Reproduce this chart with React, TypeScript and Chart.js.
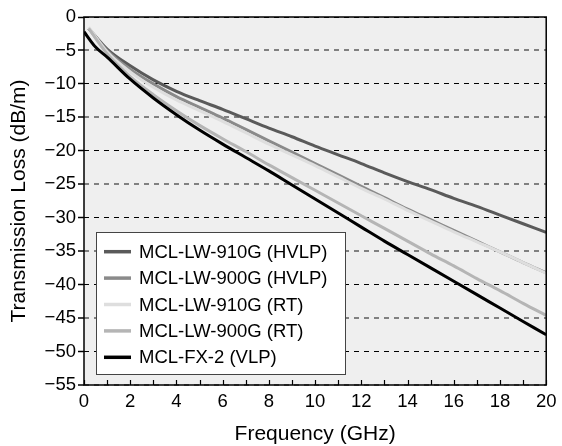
import React, { useEffect, useRef } from 'react';
import { Chart, registerables } from 'chart.js';

Chart.register(...registerables);

// ---- data ----
const freqGHz = [0.2, 1, 2, 3, 4, 5, 6, 7, 8, 9, 10, 11, 12, 13, 14, 15, 16, 17, 18, 19, 20];
const fx2FreqGHz = [0, 0.5, 1, 2, 3, 4, 5, 6, 7, 8, 9, 10, 11, 12, 13, 14, 15, 16, 17, 18, 19, 20];

const seriesNames = [
  'MCL-LW-910G (HVLP)',
  'MCL-LW-900G (HVLP)',
  'MCL-LW-910G (RT)',
  'MCL-LW-900G (RT)',
  'MCL-FX-2 (VLP)',
];

const lw910HVLP = [-1.7, -4.8, -7.3, -9.4, -11.1, -12.5, -13.8, -15.2, -16.6, -17.9, -19.3, -20.6, -21.9, -23.3, -24.6, -25.8, -27.1, -28.3, -29.6, -30.9, -32.2];
const lw900HVLP = [-1.7, -5.0, -7.8, -10.0, -11.9, -13.5, -15.1, -16.8, -18.5, -20.2, -21.9, -23.6, -25.3, -27.0, -28.7, -30.3, -31.9, -33.5, -35.1, -36.7, -38.2];
const lw910RT = [-1.5, -5.2, -8.2, -10.5, -12.4, -14.0, -15.6, -17.3, -19.0, -20.6, -22.2, -23.9, -25.6, -27.2, -28.9, -30.5, -32.1, -33.6, -35.1, -36.7, -38.3];
const lw900RT = [-1.7, -5.5, -8.9, -11.6, -14.0, -16.2, -18.2, -20.1, -22.1, -24.0, -25.9, -27.8, -29.7, -31.6, -33.5, -35.4, -37.2, -39.1, -40.9, -42.8, -44.6];
const fx2VLP = [-2.2, -4.5, -6.0, -9.3, -12.1, -14.6, -16.9, -19.0, -21.0, -23.0, -25.1, -27.2, -29.3, -31.4, -33.5, -35.5, -37.5, -39.5, -41.5, -43.5, -45.5, -47.5];

const yMin = -55;
const yMax = 0;
const yStep = 5;
const xMin = 0;
const xMax = 20;
const xLabelStep = 2;
const xMinorStep = 1;

const xTitle = 'Frequency (GHz)';
const yTitle = 'Transmission Loss (dB/m)';

// ---- styles ----
const seriesColors = ['#5a5a5a', '#8a8a8a', '#dedede', '#b5b5b5', '#000000'];
const FONT = '"Liberation Sans", Arial, Helvetica, sans-serif';

const toPoints = (xs: number[], ys: number[]) => xs.map((x, i) => ({ x, y: ys[i] }));

const decorPlugin = {
  id: 'decor',
  beforeDraw(chart: any) {
    const { ctx, chartArea: a } = chart;
    ctx.save();
    ctx.fillStyle = '#efefef';
    ctx.fillRect(a.left, a.top, a.right - a.left, a.bottom - a.top);
    ctx.restore();
  },
  afterDraw(chart: any) {
    const { ctx, chartArea: a } = chart;
    const xs = chart.scales.x;
    ctx.save();
    // minor x ticks pointing inward
    ctx.strokeStyle = '#000';
    ctx.lineWidth = 1.2;
    for (let v = xs.min; v <= xs.max + 1e-9; v += xMinorStep) {
      const px = Math.round(xs.getPixelForValue(v)) + 0.5;
      ctx.beginPath();
      ctx.moveTo(px, a.bottom);
      ctx.lineTo(px, a.bottom - 5);
      ctx.stroke();
    }
    // legend box
    const bx = a.left + 12;
    const by = a.bottom - 153;
    const bw = 249;
    const bh = 142;
    ctx.fillStyle = '#ffffff';
    ctx.fillRect(bx, by, bw, bh);
    ctx.strokeStyle = '#444';
    ctx.lineWidth = 1;
    ctx.strokeRect(bx + 0.5, by + 0.5, bw, bh);
    ctx.font = `18.5px ${FONT}`;
    ctx.textBaseline = 'middle';
    ctx.textAlign = 'left';
    chart.data.datasets.forEach((ds: any, i: number) => {
      const cy = by + 19.7 + i * 26.4;
      ctx.strokeStyle = ds.borderColor;
      ctx.lineWidth = 3.5;
      ctx.beginPath();
      ctx.moveTo(bx + 8, cy);
      ctx.lineTo(bx + 35, cy);
      ctx.stroke();
      ctx.fillStyle = '#000';
      ctx.fillText(ds.label, bx + 43, cy + 1);
    });
    // frame
    ctx.strokeStyle = '#000';
    ctx.lineWidth = 1.5;
    ctx.strokeRect(a.left, a.top, a.right - a.left, a.bottom - a.top);
    ctx.restore();
  },
};

export default function App() {
  const ref = useRef<HTMLCanvasElement | null>(null);
  useEffect(() => {
    document.body.style.margin = '0';
    const canvas = ref.current;
    if (!canvas) return;
    const seriesValues = [lw910HVLP, lw900HVLP, lw910RT, lw900RT, fx2VLP];
    const seriesFreqs = [freqGHz, freqGHz, freqGHz, freqGHz, fx2FreqGHz];
    const datasets = seriesNames.map((name, i) => ({
      label: name,
      data: toPoints(seriesFreqs[i], seriesValues[i]),
      borderColor: seriesColors[i],
      backgroundColor: seriesColors[i],
      borderWidth: 3,
      pointRadius: 0,
      fill: false,
      cubicInterpolationMode: 'monotone' as const,
      order: seriesNames.length - i,
    }));
    const chart = new Chart(canvas, {
      type: 'line',
      data: { datasets },
      options: {
        animation: false,
        responsive: false,
        devicePixelRatio: 1,
        layout: { padding: { left: 0, right: 12, top: 17, bottom: 0 } },
        plugins: { legend: { display: false }, tooltip: { enabled: false } },
        scales: {
          x: {
            type: 'linear',
            min: xMin,
            max: xMax,
            afterFit: (s: any) => { s.height = 61; },
            ticks: {
              stepSize: xLabelStep,
              color: '#000',
              padding: 5.5,
              font: { family: FONT, size: 18.5 },
              maxRotation: 0,
            },
            grid: { display: false, drawTicks: false },
            border: { display: false },
            title: {
              display: true,
              text: xTitle,
              color: '#000',
              font: { family: FONT, size: 21, lineHeight: 1 },
              padding: { top: 0, bottom: 1 },
            },
          },
          y: {
            type: 'linear',
            min: yMin,
            max: yMax,
            afterFit: (s: any) => { s.width = 84; },
            ticks: {
              stepSize: yStep,
              color: '#000',
              padding: 2,
              font: { family: FONT, size: 18.5 },
              callback: (v: any) => (Number(v) < 0 ? '\u2212' + Math.abs(Number(v)) : String(v)),
            },
            grid: {
              drawTicks: true,
              tickLength: 6,
              tickColor: '#000',
              tickWidth: 1.5,
              tickBorderDash: [],
              color: (c: any) => (c.tick && Math.abs(c.tick.value) % 10 === 0 ? '#000000' : '#808080'),
              lineWidth: (c: any) => (c.tick && Math.abs(c.tick.value) % 10 === 0 ? 1 : 2),
            },
            border: { display: false, dash: [5, 5] },
            title: {
              display: true,
              text: yTitle,
              color: '#000',
              font: { family: FONT, size: 21, lineHeight: 1 },
              padding: { top: 9, bottom: 0 },
            },
          },
        },
      },
      plugins: [decorPlugin],
    });
    return () => chart.destroy();
  }, []);
  return (
    <div style={{ width: 562, height: 446 }}>
      <canvas ref={ref} width={562} height={446} style={{ display: 'block', width: 562, height: 446 }} />
    </div>
  );
}
